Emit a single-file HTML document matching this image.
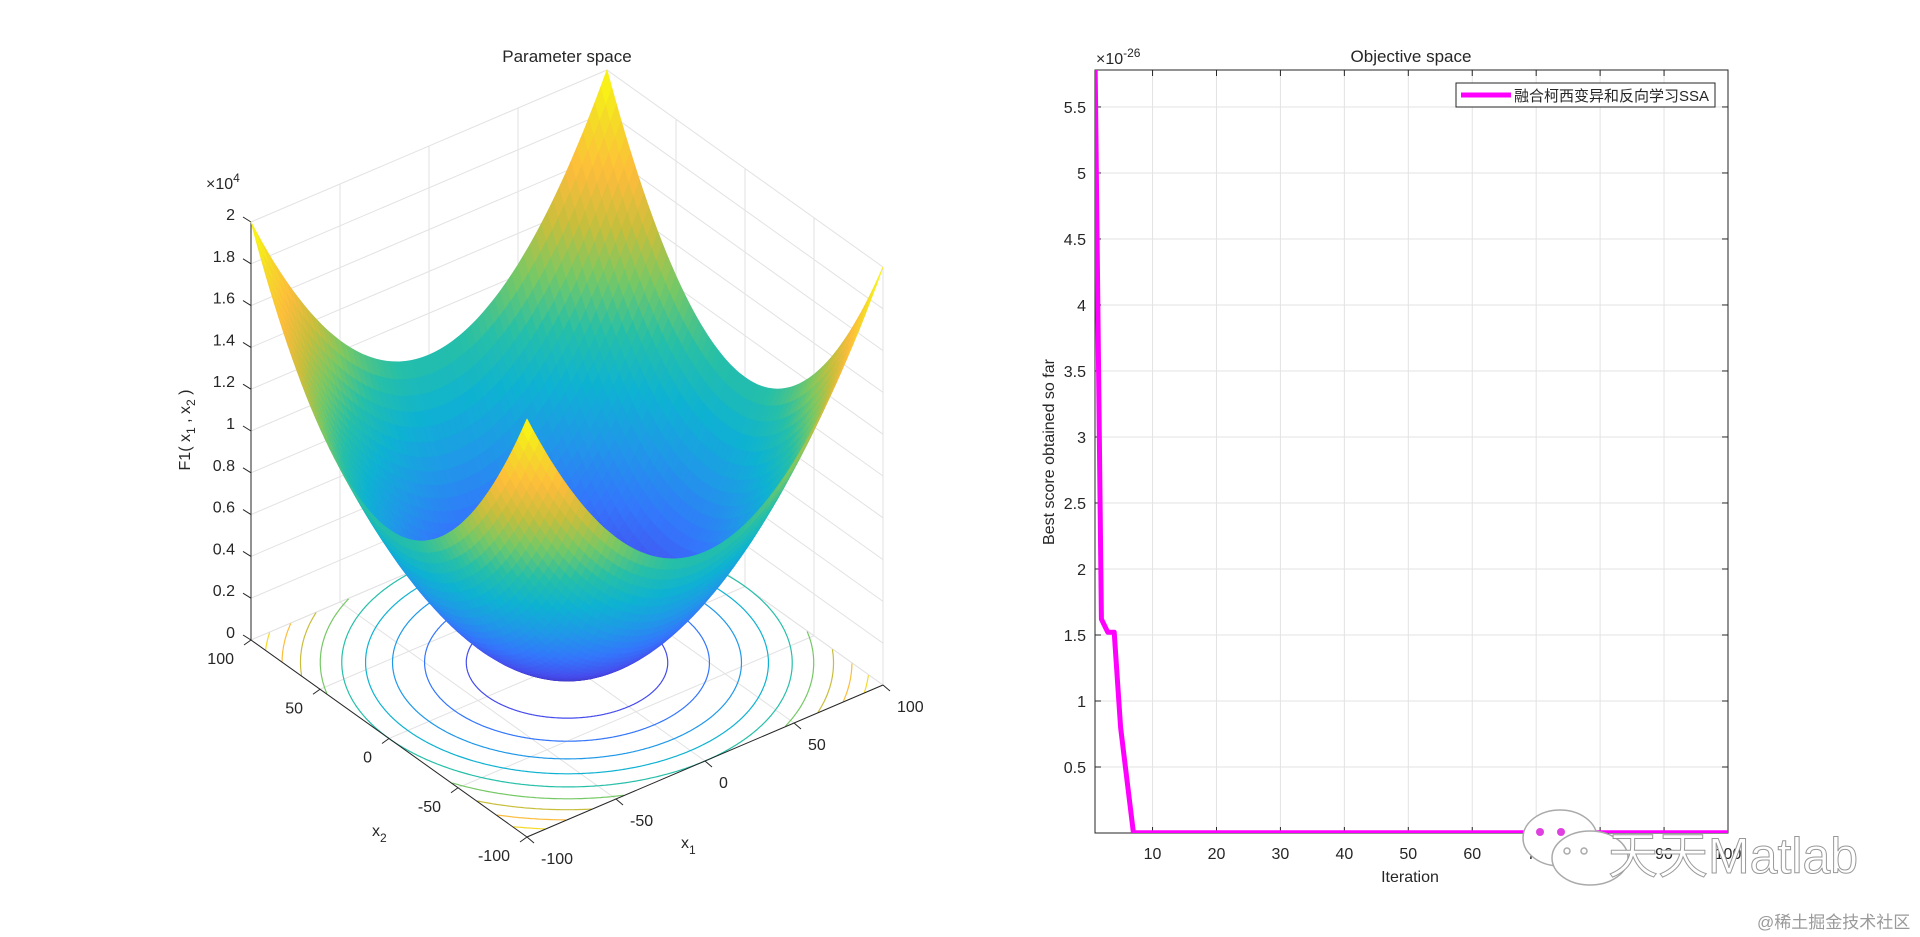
<!DOCTYPE html>
<html><head><meta charset="utf-8">
<style>
html,body{margin:0;padding:0;background:#fff;width:1920px;height:937px;overflow:hidden}
svg{position:absolute;left:0;top:0}
text{font-family:"Liberation Sans","Noto Sans CJK SC",sans-serif;fill:#262626}
</style></head>
<body>
<svg id="fig" width="1920" height="937" viewBox="0 0 1920 937">
  <defs><clipPath id="rclip"><rect x="1095" y="70" width="633" height="763"/></clipPath></defs>
  <g id="left"></g>
  <g id="right"></g>
  <g id="wm">
    <g fill="#fff" stroke="#aaa" stroke-width="1.5">
      <ellipse cx="1560" cy="838" rx="37" ry="28"/>
      <ellipse cx="1590" cy="858" rx="38" ry="27"/>
      <circle cx="1540" cy="832" r="4" fill="#e040e0" stroke="none"/>
      <circle cx="1561" cy="832" r="4" fill="#e040e0" stroke="none"/>
      <circle cx="1567" cy="851" r="3"/><circle cx="1584" cy="851" r="3"/>
    </g>
    <text x="1608" y="873" font-size="50" style="fill:#fff;stroke:#999;stroke-width:1">天天Matlab</text>
    <text x="1757" y="928" font-size="17" style="fill:#9a9a9a">@稀土掘金技术社区</text>
  </g>
</svg>
<script>
const NS="http://www.w3.org/2000/svg";
function mk(parent,tag,attrs,txt){const e=document.createElementNS(NS,tag);for(const k in attrs)e.setAttribute(k,attrs[k]);if(txt!==undefined)e.textContent=txt;parent.appendChild(e);return e;}

/* ---------- right chart data ---------- */
const iterations=[1,2,3,4,5,6,7,8,9,10,11,12,13,14,15,16,17,18,19,20,21,22,23,24,25,26,27,28,29,30,31,32,33,34,35,36,37,38,39,40,41,42,43,44,45,46,47,48,49,50,51,52,53,54,55,56,57,58,59,60,61,62,63,64,65,66,67,68,69,70,71,72,73,74,75,76,77,78,79,80,81,82,83,84,85,86,87,88,89,90,91,92,93,94,95,96,97,98,99,100];
const bestScores=[5.9,1.62,1.52,1.52,0.8,0.4,0.002,0.002,0.002,0.002,0.002,0.002,0.002,0.002,0.002,0.002,0.002,0.002,0.002,0.002,0.002,0.002,0.002,0.002,0.002,0.002,0.002,0.002,0.002,0.002,0.002,0.002,0.002,0.002,0.002,0.002,0.002,0.002,0.002,0.002,0.002,0.002,0.002,0.002,0.002,0.002,0.002,0.002,0.002,0.002,0.002,0.002,0.002,0.002,0.002,0.002,0.002,0.002,0.002,0.002,0.002,0.002,0.002,0.002,0.002,0.002,0.002,0.002,0.002,0.002,0.002,0.002,0.002,0.002,0.002,0.002,0.002,0.002,0.002,0.002,0.002,0.002,0.002,0.002,0.002,0.002,0.002,0.002,0.002,0.002,0.002,0.002,0.002,0.002,0.002,0.002,0.002,0.002,0.002,0.002];
const xTicks=[10,20,30,40,50,60,70,80,90,100];
const yTicks=[0.5,1,1.5,2,2.5,3,3.5,4,4.5,5,5.5];
const yTickLabels=["0.5","1","1.5","2","2.5","3","3.5","4","4.5","5","5.5"];

/* ---------- left chart data ---------- */
const zTicks=[0,2000,4000,6000,8000,10000,12000,14000,16000,18000,20000];
const zTickLabels=["0","0.2","0.4","0.6","0.8","1","1.2","1.4","1.6","1.8","2"];
const x1Ticks=[-100,-50,0,50,100];
const x2Ticks=[-100,-50,0,50,100];
const contourLevels=[2000,4000,6000,8000,10000,12000,14000,16000,18000];

/* ---------- right chart ---------- */
(function(){
  const g=document.getElementById('right');
  const L=1095,R=1728,T=70,B=833,xmin=1,xmax=100,ymin=0,ymax=5.78;
  const sx=v=>L+(v-xmin)/(xmax-xmin)*(R-L);
  const sy=v=>B-(v-ymin)/(ymax-ymin)*(B-T);
  const grid=mk(g,'g',{});
  
  
  xTicks.forEach(t=>{mk(grid,'line',{x1:sx(t),x2:sx(t),y1:T,y2:B,stroke:'#e3e3e3','stroke-width':1});});
  yTicks.forEach(t=>{mk(grid,'line',{x1:L,x2:R,y1:sy(t),y2:sy(t),stroke:'#e3e3e3','stroke-width':1});});
  const box=mk(g,'rect',{x:L,y:T,width:R-L,height:B-T,fill:'none',stroke:'#262626','stroke-width':1});
  
  
  xTicks.forEach(t=>{
    mk(g,'line',{x1:sx(t),x2:sx(t),y1:B,y2:B-6,stroke:'#262626'});
    mk(g,'line',{x1:sx(t),x2:sx(t),y1:T,y2:T+6,stroke:'#262626'});
    const tx=mk(g,'text',{x:sx(t),y:B+26,'font-size':16,'text-anchor':'middle'},String(t));
    
    
  });
  yTicks.forEach((t,i)=>{
    mk(g,'line',{x1:L,x2:L+6,y1:sy(t),y2:sy(t),stroke:'#262626'});
    mk(g,'line',{x1:R,x2:R-6,y1:sy(t),y2:sy(t),stroke:'#262626'});
    const ty=mk(g,'text',{x:L-9,y:sy(t)+6,'font-size':16,'text-anchor':'end'},yTickLabels[i]);
    
    
  });
  let d='';
  iterations.forEach((it,i)=>{d+=(i?'L':'M')+sx(it).toFixed(1)+','+sy(bestScores[i]).toFixed(1);});
  const line=mk(g,'path',{d:d,fill:'none',stroke:'#ff00ff','stroke-width':5,'stroke-linejoin':'round','clip-path':'url(#rclip)'});
  
  
  const title=mk(g,'text',{x:1411,y:62,'font-size':17,'text-anchor':'middle'},'Objective space');
  
  
  const ex=mk(g,'text',{x:1096,y:64,'font-size':16});
  
  
  mk(ex,'tspan',{},'×10');mk(ex,'tspan',{dy:-7,'font-size':12},'-26');
  const xl=mk(g,'text',{x:1410,y:882,'font-size':16,'text-anchor':'middle'},'Iteration');
  
  
  const yl=mk(g,'text',{x:0,y:0,'font-size':16,'text-anchor':'middle',transform:'translate(1054,452) rotate(-90)'},'Best score obtained so far');
  
  
  const lg=mk(g,'g',{});
  
  
  mk(lg,'rect',{x:1456,y:83,width:259,height:24,fill:'#fff',stroke:'#262626','stroke-width':1});
  mk(lg,'line',{x1:1461,x2:1511,y1:95,y2:95,stroke:'#ff00ff','stroke-width':5});
  const lt=mk(lg,'text',{x:1514,y:101,'font-size':15},'融合柯西变异和反向学习SSA');
  
  
})();

/* ---------- left 3D chart ---------- */
(function(){
  const g=document.getElementById('left');
  const C=[567,662.5],a=[1.78,-0.76],b=[-1.38,-0.985],kz=0.0209;
  const P=(x1,x2,z)=>[C[0]+a[0]*x1+b[0]*x2, C[1]+a[1]*x1+b[1]*x2-kz*z];
  const stops=[[62,38,168],[70,76,236],[52,118,252],[32,152,232],[14,178,210],[38,191,168],[118,200,102],[200,190,60],[253,188,60],[245,218,40],[249,251,14]];
  function parula(t){t=Math.max(0,Math.min(1,t));const f=t*(stops.length-1);const i=Math.min(stops.length-2,Math.floor(f));const r=f-i;
    const c=stops[i].map((v,k)=>Math.round(v+(stops[i+1][k]-v)*r));return 'rgb('+c.join(',')+')';}
  const F=(x1,x2)=>x1*x1+x2*x2;
  const pt=p=>p[0].toFixed(1)+','+p[1].toFixed(1);
  const grid=mk(g,'g',{stroke:'#e2e2e2','stroke-width':1,fill:'none'});
  
  
  x1Ticks.forEach(t=>{mk(grid,'line',{x1:P(t,-100,0)[0],y1:P(t,-100,0)[1],x2:P(t,100,0)[0],y2:P(t,100,0)[1]});
    mk(grid,'line',{x1:P(t,100,0)[0],y1:P(t,100,0)[1],x2:P(t,100,20000)[0],y2:P(t,100,20000)[1]});});
  x2Ticks.forEach(t=>{mk(grid,'line',{x1:P(-100,t,0)[0],y1:P(-100,t,0)[1],x2:P(100,t,0)[0],y2:P(100,t,0)[1]});
    mk(grid,'line',{x1:P(100,t,0)[0],y1:P(100,t,0)[1],x2:P(100,t,20000)[0],y2:P(100,t,20000)[1]});});
  zTicks.forEach(t=>{mk(grid,'polyline',{points:pt(P(-100,100,t))+' '+pt(P(100,100,t))+' '+pt(P(100,-100,t))});});
  const cg=mk(g,'g',{fill:'none','stroke-width':1.2});
  
  
  contourLevels.forEach(lv=>{
    const r=Math.sqrt(lv);let d='',pen=false;
    for(let i=0;i<=720;i++){const th=i/720*2*Math.PI;const x1=r*Math.cos(th),x2=r*Math.sin(th);
      if(Math.abs(x1)<=100&&Math.abs(x2)<=100){const p=P(x1,x2,0);d+=(pen?'L':'M')+pt(p);pen=true;}else pen=false;}
    const c=mk(cg,'path',{d:d,stroke:parula(lv/20000)});
    
    
  });
  const ax=mk(g,'g',{stroke:'#262626','stroke-width':1});
  
  
  let p1=P(-100,-100,0),p2=P(100,-100,0),p3=P(-100,100,0),p4=P(-100,100,20000);
  mk(ax,'line',{x1:p1[0],y1:p1[1],x2:p2[0],y2:p2[1]});
  mk(ax,'line',{x1:p3[0],y1:p3[1],x2:p1[0],y2:p1[1]});
  mk(ax,'line',{x1:p3[0],y1:p3[1],x2:p4[0],y2:p4[1]});
  x1Ticks.forEach(t=>{const p=P(t,-100,0);mk(ax,'line',{x1:p[0],y1:p[1],x2:p[0]+7,y2:p[1]+6});
    const tx=mk(g,'text',{x:p[0]+14,y:p[1]+27,'font-size':16},String(t));
    
    });
  x2Ticks.forEach(t=>{const p=P(-100,t,0);mk(ax,'line',{x1:p[0],y1:p[1],x2:p[0]-7,y2:p[1]+5});
    const tx=mk(g,'text',{x:p[0]-17,y:p[1]+24,'font-size':16,'text-anchor':'end'},String(t));
    
    });
  zTicks.forEach((t,i)=>{const p=P(-100,100,t);mk(ax,'line',{x1:p[0],y1:p[1],x2:p[0]-8,y2:p[1]-5});
    const tx=mk(g,'text',{x:235,y:p[1]-2,'font-size':16,'text-anchor':'end'},zTickLabels[i]);
    
    });
  const sg=mk(g,'g',{});
  
  
  const N=60,cells=[];
  for(let i=0;i<N;i++)for(let j=0;j<N;j++){
    const u0=-100+200*i/N,u1=-100+200*(i+1)/N,v0=-100+200*j/N,v1=-100+200*(j+1)/N;
    const cx=(u0+u1)/2,cy=(v0+v1)/2,zc=(F(u0,v0)+F(u1,v0)+F(u1,v1)+F(u0,v1))/4;
    const depth=1.843*(1.38*cx+1.78*cy)/2.25-0.0144*zc;
    cells.push({u0,u1,v0,v1,zc,depth});}
  cells.sort((p,q)=>q.depth-p.depth);
  cells.forEach(c=>{const col=parula(c.zc/20000);
    mk(sg,'polygon',{points:[P(c.u0,c.v0,F(c.u0,c.v0)),P(c.u1,c.v0,F(c.u1,c.v0)),P(c.u1,c.v1,F(c.u1,c.v1)),P(c.u0,c.v1,F(c.u0,c.v1))].map(pt).join(' '),fill:col,stroke:col,'stroke-width':0.8,'stroke-linejoin':'round'});});
  const title=mk(g,'text',{x:567,y:62,'font-size':17,'text-anchor':'middle'},'Parameter space');
  
  
  const ex=mk(g,'text',{x:206,y:189,'font-size':16});
  
  
  mk(ex,'tspan',{},'×10');mk(ex,'tspan',{dy:-7,'font-size':12},'4');
  const zl=mk(g,'text',{'font-size':16,'text-anchor':'middle',transform:'translate(190,430) rotate(-90)'});
  
  
  mk(zl,'tspan',{},'F1( x');mk(zl,'tspan',{dy:5,'font-size':12},'1');mk(zl,'tspan',{dy:-5},' , x');mk(zl,'tspan',{dy:5,'font-size':12},'2');mk(zl,'tspan',{dy:-5},' )');
  const x1l=mk(g,'text',{x:681,y:848,'font-size':16});
  
  
  mk(x1l,'tspan',{},'x');mk(x1l,'tspan',{dy:6,'font-size':12},'1');
  const x2l=mk(g,'text',{x:372,y:836,'font-size':16});
  
  
  mk(x2l,'tspan',{},'x');mk(x2l,'tspan',{dy:6,'font-size':12},'2');
})();
</script>
</body></html>
